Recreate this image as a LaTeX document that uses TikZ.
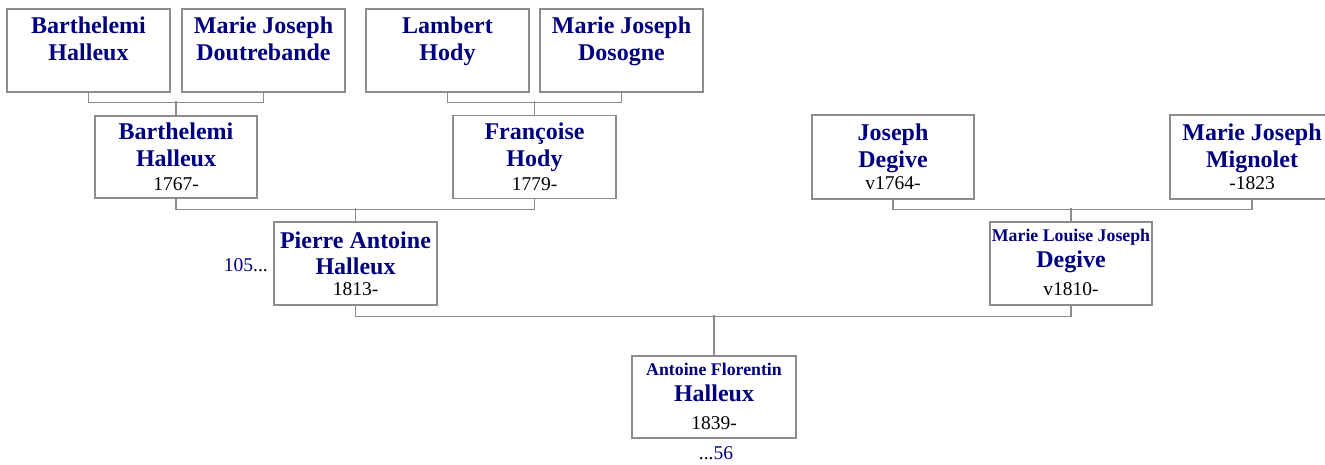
\documentclass[tikz,border=0pt]{standalone}
\usepackage{fontspec}
\setmainfont{Liberation Serif}
\definecolor{namecol}{RGB}{0,0,128}
\definecolor{linecol}{RGB}{140,140,140}
\tikzset{
  person/.style={draw=linecol, line width=1.4pt, fill=white, rectangle, minimum width=163pt, minimum height=83pt, inner sep=0pt},
  conn/.style={draw=linecol, line width=1.4pt},
  nm/.style={anchor=base, inner sep=0pt, text=namecol, font=\fontsize{24}{27}\selectfont\bfseries},
  smallnm/.style={anchor=base, inner sep=0pt, text=namecol, font=\fontsize{17.8}{20}\selectfont\bfseries},
  dt/.style={anchor=base, inner sep=0pt, text=black, font=\fontsize{19.5}{22}\selectfont},
  lnk/.style={anchor=base, inner sep=0pt, font=\fontsize{19.5}{22}\selectfont}
}
\begin{document}
\begin{tikzpicture}[x=1pt,y=-1pt]
\useasboundingbox (0,0) rectangle (1325,464);
\clip (0,0) rectangle (1325,464);
% boxes
\node[person] (b1) at (88.5,50.5) {};
\node[person] (b2) at (263.5,50.5) {};
\node[person] (b3) at (447.5,50.5) {};
\node[person] (b4) at (621.5,50.5) {};
\node[person, minimum width=162pt, minimum height=82pt] (b5) at (176,157) {};
\node[person] (b6) at (534.5,157) {};
\node[person, minimum width=162pt, minimum height=84pt] (b8) at (893,157) {};
\node[person, minimum width=164pt, minimum height=84pt] (b9) at (1252,157) {};
\node[person] (b7) at (355.5,263.5) {};
\node[person, minimum width=162pt] (b10) at (1071,263.5) {};
\node[person, minimum width=164pt, minimum height=82pt] (b11) at (714,397) {};
% connectors
\draw[conn] (b1.south) -- ++(0,10) -| (b2.south);
\draw[conn] (b5.north) -- ++(0,-14);
\draw[conn] (b3.south) -- ++(0,10) -| (b4.south);
\draw[conn] (b6.north) -- ++(0,-14);
\draw[conn] (b5.south) -- ++(0,11) -| (b6.south);
\draw[conn] (b7.north) -- ++(0,-13);
\draw[conn] (b8.south) -- ++(0,10) -| (b9.south);
\draw[conn] (b10.north) -- ++(0,-13);
\draw[conn] (b7.south) -- ++(0,11) -| (b10.south);
\draw[conn] (b11.north) -- ++(0,-40);
% texts row 1
\node[nm] (t1a) at (88.5,33) {Barthelemi};
\node[nm] (t1b) at (88.5,60) {Halleux};
\node[nm] (t2a) at (263.5,33) {Marie Joseph};
\node[nm] (t2b) at (263.5,60) {Doutrebande};
\node[nm] (t3a) at (447.5,33) {Lambert};
\node[nm] (t3b) at (447.5,60) {Hody};
\node[nm] (t4a) at (621.5,33) {Marie Joseph};
\node[nm] (t4b) at (621.5,60) {Dosogne};
% row 2
\node[nm] (t5a) at (176,139) {Barthelemi};
\node[nm] (t5b) at (176,166) {Halleux};
\node[dt] (t5c) at (176,190) {1767-};
\node[nm] (t6a) at (534.5,139) {Françoise};
\node[nm] (t6b) at (534.5,166) {Hody};
\node[dt] (t6c) at (534.5,190) {1779-};
\node[nm] (t8a) at (893,140) {Joseph};
\node[nm] (t8b) at (893,167) {Degive};
\node[dt] (t8c) at (893,189) {v1764-};
\node[nm] (t9a) at (1252,140) {Marie Joseph};
\node[nm] (t9b) at (1252,167) {Mignolet};
\node[dt] (t9c) at (1252,189) {-1823};
% row 3
\node[nm] (t7a) at (355.5,248) {Pierre Antoine};
\node[nm] (t7b) at (355.5,274) {Halleux};
\node[dt] (t7c) at (355.5,295) {1813-};
\node[smallnm] (t10a) at (1071,241) {Marie Louise Joseph};
\node[nm] (t10b) at (1071,267) {Degive};
\node[dt] (t10c) at (1071,295) {v1810-};
% row 4
\node[smallnm] (t11a) at (714,375) {Antoine Florentin};
\node[nm] (t11b) at (714,401) {Halleux};
\node[dt] (t11c) at (714,429) {1839-};
% links
\node[lnk, anchor=base east] (l1) at (268,271) {\textcolor{namecol}{105}...};
\node[lnk] (l2) at (716,459) {...\textcolor{namecol}{56}};
\end{tikzpicture}
\end{document}
